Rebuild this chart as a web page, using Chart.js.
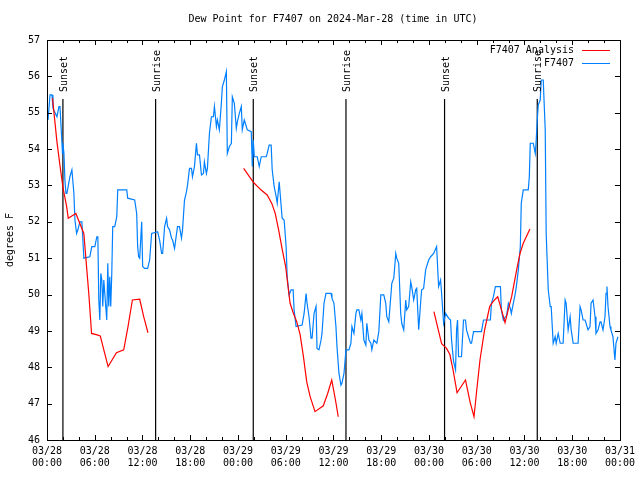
<!DOCTYPE html>
<html>
<head>
<meta charset="utf-8">
<script src="https://cdn.jsdelivr.net/npm/chart.js@4.4.1/dist/chart.umd.min.js"></script>
<style>
  html, body { margin: 0; padding: 0; background: #fff; }
  #wrap { width: 640px; height: 480px; }
</style>
</head>
<body>
<div id="wrap"><canvas id="dewPoint" width="640" height="480"></canvas></div>
<script>
// hours since 03/28 00:00 UTC
const obsHours = [0.13, 0.38, 0.63, 0.75, 1.25, 1.50, 1.63, 1.88, 1.94, 2.00, 2.13, 2.25, 2.38, 2.50, 2.88, 3.13, 3.38, 3.51, 3.72, 3.88,
    4.13, 4.38, 4.51, 4.63, 5.38, 5.63, 6.01, 6.26, 6.39, 6.51, 6.64, 6.76, 6.89, 7.01, 7.14, 7.26, 7.51, 7.64, 7.76, 7.89,
    8.01, 8.14, 8.26, 8.51, 8.77, 8.89, 10.02, 10.14, 11.02, 11.27, 11.39, 11.52, 11.65, 11.90, 12.02, 12.27, 12.65, 12.90, 13.15, 13.90,
    14.15, 14.40, 14.53, 14.78, 15.03, 15.15, 15.40, 15.65, 15.78, 16.03, 16.28, 16.40, 16.65, 16.90, 17.03, 17.28, 17.53, 17.66, 17.91, 18.16,
    18.28, 18.53, 18.78, 18.91, 19.16, 19.41, 19.66, 19.78, 20.03, 20.16, 20.41, 20.66, 20.91, 21.04, 21.29, 21.41, 21.66, 21.91, 22.04, 22.29,
    22.54, 22.66, 22.92, 23.17, 23.29, 23.54, 23.79, 23.92, 24.17, 24.42, 24.54, 24.79, 24.92, 25.17, 25.67, 25.80, 25.92, 26.05, 26.42, 26.67,
    26.92, 27.55, 27.67, 27.92, 28.17, 28.30, 28.55, 28.80, 28.93, 29.18, 29.43, 29.55, 29.80, 30.05, 30.18, 30.43, 30.68, 30.93, 31.05, 31.30,
    32.06, 32.31, 32.56, 32.68, 32.93, 33.18, 33.31, 33.56, 33.81, 33.93, 34.18, 34.44, 34.56, 34.81, 35.06, 35.69, 35.81, 36.06, 36.31, 36.44,
    36.69, 36.94, 37.06, 37.32, 37.57, 37.94, 38.19, 38.32, 38.57, 38.82, 38.94, 39.19, 39.44, 39.57, 39.82, 40.07, 40.19, 40.45, 40.70, 40.82,
    41.07, 41.45, 41.70, 41.95, 42.32, 42.57, 42.70, 42.95, 43.20, 43.33, 43.58, 43.83, 43.95, 44.20, 44.45, 44.58, 44.83, 45.08, 45.20, 45.45,
    45.71, 45.83, 46.08, 46.33, 46.46, 46.71, 46.96, 47.08, 47.33, 47.58, 47.96, 48.21, 48.59, 48.96, 49.21, 49.46, 49.59, 49.84, 50.09, 50.46,
    50.71, 50.84, 51.09, 51.34, 51.47, 51.59, 51.72, 52.09, 52.34, 52.59, 52.72, 52.97, 53.22, 53.35, 53.60, 54.60, 54.85, 55.72, 55.85, 56.10,
    56.35, 56.98, 57.10, 57.35, 57.60, 57.73, 57.98, 58.23, 58.35, 58.60, 58.85, 58.98, 59.23, 59.48, 59.60, 59.85, 60.48, 60.61, 60.73, 61.11,
    61.36, 61.48, 61.61, 61.73, 61.98, 62.11, 62.36, 62.61, 62.73, 62.99, 63.24, 63.36, 63.61, 63.86, 63.99, 64.24, 64.49, 64.86, 65.11, 65.24,
    65.49, 65.74, 65.87, 66.12, 66.74, 66.99, 67.12, 67.37, 67.62, 67.74, 67.99, 68.24, 68.37, 68.62, 68.87, 68.99, 69.25, 69.50, 69.62, 69.87,
    70.12, 70.25, 70.37, 70.50, 70.75, 70.87, 71.12, 71.37, 71.50, 71.75];
const obsDew = [54.80, 55.49, 55.49, 55.12, 54.89, 55.17, 55.17, 54.16, 53.88, 54.16, 53.88, 53.15, 52.78, 52.78, 53.24, 53.43, 52.78, 52.05, 51.68, 51.78,
    52.00, 52.00, 51.50, 51.00, 51.04, 51.32, 51.32, 51.59, 51.59, 49.85, 49.30, 50.58, 50.40, 49.67, 50.40, 50.03, 49.30, 50.86, 49.67, 50.49,
    49.67, 50.58, 51.87, 51.87, 52.14, 52.88, 52.88, 52.65, 52.60, 52.23, 51.32, 51.04, 51.00, 52.00, 50.77, 50.72, 50.72, 50.95, 51.68, 51.73,
    51.50, 51.13, 51.13, 51.87, 52.10, 51.87, 51.78, 51.55, 51.50, 51.27, 51.68, 51.87, 51.87, 51.55, 51.78, 52.60, 52.83, 53.01, 53.47, 53.47,
    53.24, 53.52, 54.16, 53.84, 53.84, 53.29, 53.33, 53.65, 53.33, 53.47, 54.43, 54.89, 54.89, 55.17, 54.62, 54.80, 54.53, 55.26, 55.72, 55.90,
    56.13, 53.88, 54.07, 54.16, 55.44, 55.26, 54.57, 54.75, 54.98, 55.17, 54.53, 54.80, 54.71, 54.53, 54.48, 53.52, 54.25, 53.79, 53.79, 53.52,
    53.79, 53.79, 53.88, 54.11, 54.11, 53.43, 52.97, 52.69, 52.51, 53.10, 52.42, 52.10, 52.05, 51.32, 50.49, 49.99, 50.13, 50.13, 49.58, 49.12,
    49.16, 49.48, 50.03, 49.76, 49.39, 48.80, 48.80, 49.48, 49.67, 48.52, 48.48, 48.75, 48.93, 49.76, 50.03, 50.03, 49.90, 49.76, 49.12, 48.57,
    47.83, 47.51, 47.56, 47.83, 48.48, 48.48, 48.66, 49.12, 48.93, 49.48, 49.58, 49.58, 49.30, 49.48, 48.75, 48.61, 49.21, 48.75, 48.66, 48.48,
    48.75, 48.66, 48.98, 49.99, 49.99, 49.76, 49.39, 49.25, 49.94, 50.31, 50.45, 51.13, 51.00, 50.86, 49.48, 49.21, 49.03, 49.85, 49.58, 49.67,
    50.35, 50.22, 49.85, 50.13, 50.17, 49.03, 49.80, 50.13, 50.17, 50.68, 50.95, 51.04, 51.13, 51.32, 50.22, 50.40, 50.03, 49.21, 49.48, 49.35,
    49.30, 48.75, 48.16, 47.93, 49.03, 49.30, 48.29, 48.29, 49.30, 49.30, 49.03, 48.84, 48.66, 48.66, 48.98, 48.98, 49.30, 49.30, 49.76, 49.94,
    50.22, 50.22, 49.58, 49.30, 49.39, 49.39, 49.76, 49.62, 49.48, 49.76, 50.03, 50.22, 50.68, 51.32, 52.51, 52.88, 52.88, 53.24, 54.16, 54.16,
    53.88, 54.25, 54.80, 55.21, 55.35, 55.90, 55.90, 54.53, 51.68, 50.13, 49.67, 49.67, 48.66, 48.84, 48.66, 48.93, 48.66, 48.66, 49.85, 49.76,
    49.03, 49.39, 49.03, 48.66, 48.66, 49.67, 49.58, 49.30, 49.30, 49.21, 49.03, 49.12, 49.76, 49.85, 49.39, 48.93, 49.03, 49.25, 49.25, 49.03,
    49.39, 50.03, 50.22, 49.67, 49.12, 49.03, 48.84, 48.20, 48.66, 48.84];

// analysis runs, null breaks the line between runs
const analysisHours = [0.69, 1.25, 1.63, 2.00, 2.47, 2.67, 3.63, 4.04, 4.63, 5.26, 5.60, 6.30, 6.70, 7.14, 7.68, 8.73, 9.64, 10.18, 10.73, 11.65, 12.15, 12.69,
    18.0,
    24.71, 25.96, 26.88, 27.67, 28.26, 28.68, 29.09, 29.51, 29.99, 30.30, 30.55, 30.97, 31.39, 31.81, 32.22, 32.64, 33.06, 33.68, 34.72, 35.27, 35.78, 36.25, 36.60,
    42.0,
    48.62, 49.17, 49.59, 50.21, 50.63, 51.05, 51.53, 52.59, 53.16, 53.66, 53.97, 54.41, 54.97, 55.63, 56.10, 56.64, 57.14, 57.56, 57.98, 58.39, 59.02, 59.44, 59.85, 60.69];
const analysisDew = [55.40, 54.20, 53.55, 52.95, 52.42, 52.10, 52.23, 52.00, 51.68, 50.00, 48.93, 48.89, 48.86, 48.48, 48.02, 48.40, 48.48, 49.12, 49.85, 49.87, 49.39, 48.95,
    null,
    53.47, 53.08, 52.88, 52.74, 52.50, 52.23, 51.80, 51.30, 50.77, 50.20, 49.76, 49.48, 49.25, 48.90, 48.30, 47.60, 47.20, 46.78, 46.94, 47.28, 47.65, 47.10, 46.64,
    null,
    49.53, 49.03, 48.65, 48.52, 48.35, 47.90, 47.30, 47.65, 47.05, 46.64, 47.30, 48.20, 49.00, 49.67, 49.82, 49.94, 49.56, 49.23, 49.60, 49.94, 50.68, 51.13, 51.41, 51.80];

const sunLabels = ['Sunset', 'Sunrise', 'Sunset', 'Sunrise', 'Sunset', 'Sunrise'];
const sunHours = [2.0, 13.65, 25.92, 37.57, 49.96, 61.61];
const sunLineTop = 55.38;

const yMin = 46;
const yMax = 57;
const xMax = 72;

const monoFont = "'DejaVu Sans Mono', 'Liberation Mono', monospace";

function toPoints(xs, ys) {
    return xs.map((x, i) => ({ x: x, y: ys[i] }));
}

function tickLabel(h) {
    const day = 28 + Math.floor(h / 24);
    const hour = h % 24;
    return ['03/' + day, (hour < 10 ? '0' : '') + hour + ':00'];
}

const datasets = [
    {
        label: 'F7407 Analysis',
        data: toPoints(analysisHours, analysisDew),
        borderColor: 'rgb(255, 0, 0)',
        borderWidth: 1.2,
        pointRadius: 0,
        spanGaps: false,
    },
    {
        label: 'F7407',
        data: toPoints(obsHours, obsDew),
        borderColor: 'rgb(0, 128, 255)',
        borderWidth: 1.2,
        pointRadius: 0,
    }
];
for (let i = 0; i < sunHours.length; i++) {
    datasets.push({
        label: sunLabels[i],
        data: [{ x: sunHours[i], y: yMin }, { x: sunHours[i], y: sunLineTop }],
        borderColor: '#000',
        borderWidth: 1.2,
        pointRadius: 0,
    });
}

// gnuplot look: frame, inward ticks, title, sun labels, legend inside the plot
const gnuplotDecor = {
    id: 'gnuplotDecor',
    afterDraw(chart) {
        const ctx = chart.ctx;
        const area = chart.chartArea;
        const xs = chart.scales.x;
        const ys = chart.scales.y;
        ctx.save();
        ctx.strokeStyle = '#000';
        ctx.lineWidth = 1;
        ctx.strokeRect(Math.round(area.left) + 0.5, Math.round(area.top) + 0.5,
            Math.round(area.right - area.left), Math.round(area.bottom - area.top));

        ctx.beginPath();
        for (let h = 0; h <= xMax; h += 2) {
            const px = Math.round(xs.getPixelForValue(h)) + 0.5;
            const len = h % 6 === 0 ? 5 : 3;
            ctx.moveTo(px, area.bottom);
            ctx.lineTo(px, area.bottom - len);
            ctx.moveTo(px, area.top);
            ctx.lineTo(px, area.top + len);
        }
        for (let v = yMin; v <= yMax; v++) {
            const py = Math.round(ys.getPixelForValue(v)) + 0.5;
            ctx.moveTo(area.left, py);
            ctx.lineTo(area.left + 5, py);
            ctx.moveTo(area.right, py);
            ctx.lineTo(area.right - 5, py);
        }
        ctx.stroke();

        ctx.fillStyle = '#000';
        ctx.font = '10px ' + monoFont;
        ctx.textAlign = 'center';
        ctx.textBaseline = 'middle';
        ctx.fillText('Dew Point for F7407 on 2024-Mar-28 (time in UTC)', 333, 19);

        ctx.save();
        ctx.translate(10, 240);
        ctx.rotate(-Math.PI / 2);
        ctx.fillText('degrees F', 0, 0);
        ctx.restore();

        for (let i = 0; i < sunHours.length; i++) {
            const px = Math.round(xs.getPixelForValue(sunHours[i]));
            ctx.save();
            ctx.translate(px + 1, 92);
            ctx.rotate(-Math.PI / 2);
            ctx.textAlign = 'left';
            ctx.fillText(sunLabels[i], 0, 0);
            ctx.restore();
        }

        const legendRows = [
            { text: 'F7407 Analysis', color: 'rgb(255, 0, 0)', y: 50 },
            { text: 'F7407', color: 'rgb(0, 128, 255)', y: 63 }
        ];
        legendRows.forEach(row => {
            ctx.textAlign = 'right';
            ctx.fillStyle = '#000';
            ctx.fillText(row.text, 574, row.y);
            ctx.strokeStyle = row.color;
            ctx.beginPath();
            ctx.moveTo(582, row.y + 0.5);
            ctx.lineTo(610, row.y + 0.5);
            ctx.stroke();
        });
        ctx.restore();
    }
};

new Chart(document.getElementById('dewPoint'), {
    type: 'line',
    data: { datasets: datasets },
    plugins: [gnuplotDecor],
    options: {
        responsive: false,
        animation: false,
        layout: {
            padding: { top: 40, right: 18, left: 0, bottom: 0 }
        },
        plugins: {
            legend: { display: false },
            title: { display: false },
            tooltip: { enabled: false }
        },
        scales: {
            x: {
                type: 'linear',
                min: 0,
                max: xMax,
                grid: { display: false, drawTicks: false },
                border: { display: false },
                afterFit: function (scale) { scale.height = 40; },
                ticks: {
                    stepSize: 6,
                    autoSkip: false,
                    maxRotation: 0,
                    padding: 5,
                    color: '#000',
                    font: { family: monoFont, size: 10, lineHeight: 1.2 },
                    callback: function (value) { return tickLabel(value); }
                }
            },
            y: {
                min: yMin,
                max: yMax,
                grid: { display: false, drawTicks: false },
                border: { display: false },
                afterFit: function (scale) { scale.width = 47; },
                ticks: {
                    stepSize: 1,
                    padding: 7,
                    color: '#000',
                    font: { family: monoFont, size: 10 }
                }
            }
        }
    }
});
</script>
</body>
</html>
